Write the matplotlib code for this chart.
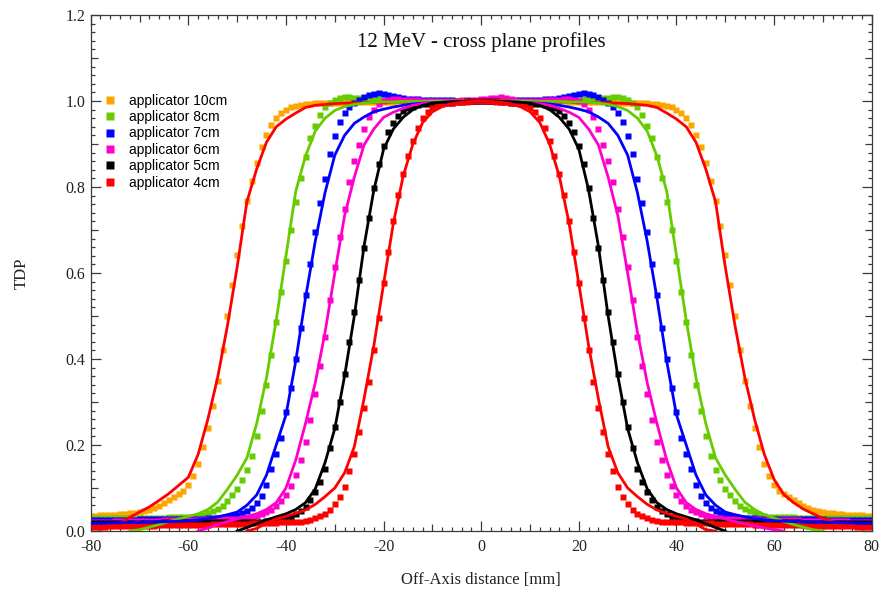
import numpy as np
import matplotlib
matplotlib.use('Agg')
import matplotlib.pyplot as plt
from matplotlib.ticker import MultipleLocator

plt.rcParams['axes.unicode_minus'] = False

nan = float('nan')

# measured points, 1 mm apart
x_meas = list(range(-80, 81))
# calculated curves, 2 mm apart
x_calc = list(range(-80, 81, 2))

labels = ['applicator 10cm', 'applicator 8cm', 'applicator 7cm',
          'applicator 6cm', 'applicator 5cm', 'applicator 4cm']
marker_colors = ['#FFA500', '#66CC00', '#0000FF', '#FF00CC', '#000000', '#FF0000']
line_colors = ['#FF0000', '#66CC00', '#0000FF', '#FF00CC', '#000000', '#FF0000']

m10 = [0.036, 0.036, 0.037, 0.037, 0.038, 0.038, 0.039, 0.040, 0.041, 0.042,
       0.044, 0.046, 0.048, 0.053, 0.058, 0.064, 0.071, 0.078, 0.086, 0.093,
       0.107, 0.128, 0.156, 0.195, 0.240, 0.290, 0.350, 0.420, 0.500, 0.573,
       0.643, 0.710, 0.768, 0.815, 0.856, 0.893, 0.920, 0.945, 0.961, 0.971,
       0.979, 0.985, 0.989, 0.991, 0.993, 0.994, 0.995, 0.995, 0.995, 0.996,
       0.996, 0.996, 0.996, 0.997, 0.997, 0.997, 0.997, 0.998, 0.998, 0.998,
       0.998, 0.998, 0.998, 0.999, 0.999, 0.999, 0.999, 0.999, 0.999, 0.999,
       0.999, 1.000, 1.000, 1.000, 1.000, 1.000, 1.000, 1.000, 1.000, 1.000,
       1.000,
       1.000, 1.000, 1.000, 1.000, 1.000, 1.000, 1.000, 1.000, 1.000, 0.999,
       0.999, 0.999, 0.999, 0.999, 0.999, 0.999, 0.999, 0.998, 0.998, 0.998,
       0.998, 0.998, 0.998, 0.997, 0.997, 0.997, 0.997, 0.996, 0.996, 0.996,
       0.996, 0.995, 0.995, 0.995, 0.994, 0.993, 0.991, 0.989, 0.985, 0.979,
       0.971, 0.961, 0.945, 0.920, 0.893, 0.856, 0.815, 0.768, 0.710, 0.643,
       0.573, 0.500, 0.420, 0.350, 0.290, 0.240, 0.195, 0.156, 0.128, 0.107,
       0.093, 0.086, 0.078, 0.071, 0.064, 0.058, 0.053, 0.048, 0.046, 0.044,
       0.042, 0.041, 0.040, 0.039, 0.038, 0.038, 0.037, 0.037, 0.036, 0.036]

m8 = [0.030, 0.030, 0.030, 0.030, 0.030, 0.030, 0.031, 0.031, 0.031, 0.031,
      0.031, 0.031, 0.031, 0.031, 0.031, 0.031, 0.032, 0.032, 0.032, 0.032,
      0.033, 0.033, 0.035, 0.038, 0.042, 0.046, 0.052, 0.059, 0.070, 0.083,
      0.097, 0.118, 0.143, 0.175, 0.222, 0.280, 0.340, 0.409, 0.487, 0.557,
      0.628, 0.701, 0.764, 0.822, 0.870, 0.913, 0.943, 0.968, 0.985, 0.995,
      1.003, 1.007, 1.009, 1.010, 1.008, 1.006, 1.005, 1.005, 1.004, 1.004,
      1.003, 1.003, 1.003, 1.002, 1.002, 1.002, 1.002, 1.002, 1.001, 1.001,
      1.001, 1.001, 1.001, 1.000, 1.000, 1.000, 1.000, 1.000, 1.000, 1.000,
      1.000,
      1.000, 1.000, 1.000, 1.000, 1.000, 1.000, 1.000, 1.001, 1.001, 1.001,
      1.001, 1.001, 1.002, 1.002, 1.002, 1.002, 1.002, 1.003, 1.003, 1.003,
      1.004, 1.004, 1.005, 1.005, 1.006, 1.008, 1.010, 1.009, 1.007, 1.003,
      0.995, 0.985, 0.968, 0.943, 0.913, 0.870, 0.822, 0.764, 0.701, 0.628,
      0.557, 0.487, 0.409, 0.340, 0.280, 0.222, 0.175, 0.143, 0.118, 0.097,
      0.083, 0.070, 0.059, 0.052, 0.046, 0.042, 0.038, 0.035, 0.033, 0.033,
      0.032, 0.032, 0.032, 0.032, 0.031, 0.031, 0.031, 0.031, 0.031, 0.031,
      0.031, 0.031, 0.031, 0.031, 0.030, 0.030, 0.030, 0.030, 0.030, 0.030]

m7 = [0.025, 0.025, 0.025, 0.025, 0.025, 0.026, 0.026, 0.026, 0.026, 0.026,
      0.027, 0.027, 0.027, 0.027, 0.027, 0.028, 0.028, 0.028, 0.028, 0.028,
      0.029, 0.029, 0.029, 0.029, 0.030, 0.030, 0.031, 0.031, 0.032, 0.035,
      0.038, 0.042, 0.046, 0.053, 0.064, 0.081, 0.106, 0.145, 0.178, 0.217,
      0.276, 0.332, 0.399, 0.472, 0.548, 0.622, 0.695, 0.763, 0.819, 0.876,
      0.919, 0.951, 0.971, 0.985, 0.995, 1.003, 1.009, 1.014, 1.017, 1.018,
      1.017, 1.015, 1.012, 1.009, 1.007, 1.005, 1.004, 1.004, 1.003, 1.003,
      1.003, 1.002, 1.002, 1.002, 1.002, 1.001, 1.001, 1.001, 1.000, 1.000,
      1.000,
      1.000, 1.000, 1.001, 1.001, 1.001, 1.002, 1.002, 1.002, 1.002, 1.003,
      1.003, 1.003, 1.004, 1.004, 1.005, 1.007, 1.009, 1.012, 1.015, 1.017,
      1.018, 1.017, 1.014, 1.009, 1.003, 0.995, 0.985, 0.971, 0.951, 0.919,
      0.876, 0.819, 0.763, 0.695, 0.622, 0.548, 0.472, 0.399, 0.332, 0.276,
      0.217, 0.178, 0.145, 0.106, 0.081, 0.064, 0.053, 0.046, 0.042, 0.038,
      0.035, 0.032, 0.031, 0.031, 0.030, 0.030, 0.029, 0.029, 0.029, 0.029,
      0.028, 0.028, 0.028, 0.028, 0.028, 0.027, 0.027, 0.027, 0.027, 0.027,
      0.026, 0.026, 0.026, 0.026, 0.026, 0.025, 0.025, 0.025, 0.025, 0.025]

m6 = [0.022, 0.022, 0.022, 0.022, 0.022, 0.023, 0.023, 0.023, 0.023, 0.023,
      0.024, 0.024, 0.024, 0.024, 0.024, 0.025, 0.025, 0.025, 0.025, 0.025,
      0.026, 0.026, 0.026, 0.026, 0.027, 0.027, 0.027, 0.028, 0.028, 0.028,
      0.029, 0.030, 0.031, 0.033, 0.035, 0.039, 0.044, 0.050, 0.058, 0.069,
      0.083, 0.105, 0.131, 0.165, 0.208, 0.259, 0.318, 0.384, 0.452, 0.537,
      0.615, 0.683, 0.749, 0.812, 0.860, 0.898, 0.935, 0.962, 0.980, 0.992,
      1.000, 1.003, 1.004, 1.004, 1.003, 1.003, 1.002, 1.002, 1.001, 1.001,
      1.000, 1.000, 1.000, 1.000, 1.001, 1.001, 1.002, 1.003, 1.003, 1.003,
      1.004,
      1.004, 1.006, 1.008, 1.009, 1.007, 1.004, 1.002, 1.000, 1.000, 1.000,
      1.001, 1.001, 1.002, 1.002, 1.003, 1.003, 1.004, 1.004, 1.003, 1.000,
      0.992, 0.980, 0.962, 0.935, 0.898, 0.860, 0.812, 0.749, 0.683, 0.615,
      0.537, 0.452, 0.384, 0.318, 0.259, 0.208, 0.165, 0.131, 0.105, 0.083,
      0.069, 0.058, 0.050, 0.044, 0.039, 0.035, 0.033, 0.031, 0.030, 0.029,
      0.028, 0.028, 0.028, 0.027, 0.027, 0.027, 0.026, 0.026, 0.026, 0.026,
      0.025, 0.025, 0.025, 0.025, 0.025, 0.024, 0.024, 0.024, 0.024, 0.024,
      0.023, 0.023, 0.023, 0.023, 0.023, 0.022, 0.022, 0.022, 0.022, 0.022]

m5 = [0.018, 0.018, 0.018, 0.018, 0.018, 0.018, 0.018, 0.019, 0.019, 0.019,
      0.019, 0.019, 0.019, 0.019, 0.019, 0.020, 0.020, 0.020, 0.020, 0.020,
      0.020, 0.020, 0.020, 0.020, 0.020, 0.021, 0.021, 0.021, 0.021, 0.021,
      0.021, 0.021, 0.022, 0.022, 0.022, 0.022, 0.023, 0.024, 0.025, 0.027,
      0.030, 0.032, 0.039, 0.047, 0.057, 0.071, 0.091, 0.113, 0.144, 0.192,
      0.242, 0.299, 0.366, 0.439, 0.509, 0.584, 0.658, 0.729, 0.797, 0.853,
      0.896, 0.927, 0.950, 0.966, 0.976, 0.983, 0.987, 0.990, 0.992, 0.993,
      0.994, 0.995, 0.995, 0.996, 0.996, 0.997, 0.998, 0.999, 0.999, 1.000,
      1.000,
      1.000, 0.999, 0.999, 0.998, 0.997, 0.996, 0.996, 0.995, 0.995, 0.994,
      0.993, 0.992, 0.990, 0.987, 0.983, 0.976, 0.966, 0.950, 0.927, 0.896,
      0.853, 0.797, 0.729, 0.658, 0.584, 0.509, 0.439, 0.366, 0.299, 0.242,
      0.192, 0.144, 0.113, 0.091, 0.071, 0.057, 0.047, 0.039, 0.032, 0.030,
      0.027, 0.025, 0.024, 0.023, 0.022, 0.022, 0.022, 0.022, 0.021, 0.021,
      0.021, 0.021, 0.021, 0.021, 0.021, 0.020, 0.020, 0.020, 0.020, 0.020,
      0.020, 0.020, 0.020, 0.020, 0.020, 0.019, 0.019, 0.019, 0.019, 0.019,
      0.019, 0.019, 0.019, 0.018, 0.018, 0.018, 0.018, 0.018, 0.018, 0.018]

m4 = [0.010, 0.010, 0.010, 0.010, 0.011, 0.011, 0.011, 0.011, 0.011, 0.012,
      0.012, 0.012, 0.012, 0.012, 0.013, 0.013, 0.013, 0.013, 0.014, 0.014,
      0.014, 0.014, 0.015, 0.015, 0.015, 0.016, 0.016, 0.016, 0.017, 0.017,
      0.017, 0.017, 0.017, 0.018, 0.018, 0.018, 0.019, 0.019, 0.019, 0.020,
      0.020, 0.020, 0.021, 0.022, 0.024, 0.026, 0.030, 0.034, 0.040, 0.050,
      0.062, 0.079, 0.103, 0.140, 0.179, 0.230, 0.287, 0.347, 0.420, 0.496,
      0.577, 0.650, 0.720, 0.781, 0.830, 0.872, 0.908, 0.938, 0.960, 0.975,
      0.984, 0.990, 0.993, 0.995, 0.996, 0.997, 0.998, 0.998, 0.999, 1.000,
      1.000,
      1.000, 0.999, 0.998, 0.998, 0.997, 0.996, 0.995, 0.993, 0.990, 0.984,
      0.975, 0.960, 0.938, 0.908, 0.872, 0.830, 0.781, 0.720, 0.650, 0.577,
      0.496, 0.420, 0.347, 0.287, 0.230, 0.179, 0.140, 0.103, 0.079, 0.062,
      0.050, 0.040, 0.034, 0.030, 0.026, 0.024, 0.022, 0.021, 0.020, 0.020,
      0.020, 0.019, 0.019, 0.019, 0.018, 0.018, 0.018, 0.017, 0.017, 0.017,
      0.017, 0.017, 0.016, 0.016, 0.016, 0.015, 0.015, 0.015, 0.014, 0.014,
      0.014, 0.014, 0.013, 0.013, 0.013, 0.013, 0.012, 0.012, 0.012, 0.012,
      0.012, 0.011, 0.011, 0.011, 0.011, 0.011, 0.010, 0.010, 0.010, 0.010]

c10 = [0.010, 0.011, 0.013, 0.018, 0.032, 0.044, 0.056, 0.071, 0.087, 0.106,
       0.125, 0.178, 0.260, 0.357, 0.477, 0.614, 0.766, 0.842, 0.904, 0.940,
       0.958, 0.972, 0.985, 0.990, 0.992, 0.994, 0.995, 0.996, 0.996, 0.997,
       0.997, 0.998, 0.998, 0.998, 0.999, 0.999, 0.999, 1.000, 1.000, 1.000,
       1.000,
       1.000, 1.000, 1.000, 0.999, 0.999, 0.999, 0.998, 0.998, 0.998, 0.997,
       0.997, 0.996, 0.996, 0.995, 0.994, 0.992, 0.990, 0.985, 0.972, 0.958,
       0.940, 0.904, 0.842, 0.766, 0.614, 0.477, 0.357, 0.260, 0.178, 0.120,
       0.085, 0.066, 0.051, 0.040, 0.030, 0.022, 0.016, 0.011, 0.009, 0.008]

c8 = [nan, nan, nan, nan, 0.000, 0.003, 0.009, 0.015, 0.022, 0.028,
      0.034, 0.040, 0.050, 0.067, 0.097, 0.130, 0.170, 0.250, 0.356, 0.490,
      0.640, 0.790, 0.872, 0.930, 0.960, 0.978, 0.987, 0.992, 0.995, 0.997,
      0.998, 0.998, 0.999, 0.999, 0.999, 1.000, 1.000, 1.000, 1.000, 1.000,
      1.000,
      1.000, 1.000, 1.000, 1.000, 1.000, 0.999, 0.999, 0.999, 0.998, 0.998,
      0.997, 0.995, 0.992, 0.987, 0.978, 0.960, 0.930, 0.872, 0.790, 0.640,
      0.490, 0.356, 0.250, 0.170, 0.130, 0.097, 0.067, 0.050, 0.038, 0.030,
      0.022, 0.015, 0.009, 0.003, 0.000, nan, nan, nan, nan, nan]

c7 = [0.018, 0.018, 0.019, 0.019, 0.020, 0.020, 0.021, 0.021, 0.022, 0.023,
      0.024, 0.026, 0.029, 0.033, 0.038, 0.044, 0.060, 0.084, 0.130, 0.200,
      0.270, 0.395, 0.542, 0.674, 0.787, 0.874, 0.920, 0.948, 0.963, 0.975,
      0.981, 0.986, 0.990, 0.993, 0.995, 0.996, 0.997, 0.998, 0.999, 1.000,
      1.000,
      1.000, 0.999, 0.998, 0.997, 0.996, 0.995, 0.993, 0.990, 0.986, 0.981,
      0.975, 0.963, 0.948, 0.920, 0.874, 0.787, 0.674, 0.542, 0.395, 0.270,
      0.200, 0.130, 0.084, 0.060, 0.044, 0.038, 0.033, 0.029, 0.026, 0.024,
      0.023, 0.022, 0.021, 0.021, 0.020, 0.020, 0.019, 0.019, 0.018, 0.018]

c6 = [nan, nan, nan, nan, nan, nan, nan, nan, nan, nan,
      nan, 0.000, 0.007, 0.015, 0.022, 0.028, 0.034, 0.040, 0.050, 0.066,
      0.100, 0.165, 0.250, 0.345, 0.462, 0.600, 0.733, 0.823, 0.898, 0.935,
      0.962, 0.974, 0.983, 0.990, 0.994, 0.996, 0.997, 0.998, 0.999, 1.000,
      1.000,
      1.000, 0.999, 0.998, 0.997, 0.996, 0.994, 0.990, 0.983, 0.974, 0.962,
      0.935, 0.898, 0.823, 0.733, 0.600, 0.462, 0.345, 0.250, 0.165, 0.100,
      0.066, 0.050, 0.040, 0.034, 0.028, 0.022, 0.017, 0.012, 0.007, 0.003,
      0.000, nan, nan, nan, nan, nan, nan, nan, nan, nan]

c5 = [nan, nan, nan, nan, nan, nan, nan, nan, nan, nan,
      nan, nan, nan, nan, nan, 0.000, 0.008, 0.017, 0.026, 0.033,
      0.040, 0.050, 0.066, 0.098, 0.159, 0.238, 0.360, 0.500, 0.663, 0.793,
      0.888, 0.935, 0.962, 0.980, 0.990, 0.995, 0.997, 0.998, 0.999, 1.000,
      1.000,
      1.000, 0.999, 0.998, 0.997, 0.995, 0.990, 0.980, 0.962, 0.935, 0.888,
      0.793, 0.663, 0.500, 0.360, 0.238, 0.159, 0.098, 0.066, 0.050, 0.040,
      0.033, 0.026, 0.017, 0.008, 0.000, nan, nan, nan, nan, nan,
      nan, nan, nan, nan, nan, nan, nan, nan, nan, nan]

c4 = [nan, nan, nan, nan, nan, nan, nan, nan, nan, nan,
      nan, nan, nan, nan, nan, nan, 0.000, 0.006, 0.018, 0.028,
      0.034, 0.041, 0.049, 0.062, 0.080, 0.100, 0.135, 0.196, 0.308, 0.431,
      0.575, 0.716, 0.825, 0.900, 0.950, 0.975, 0.987, 0.994, 0.997, 0.999,
      1.000,
      0.999, 0.997, 0.994, 0.987, 0.975, 0.950, 0.900, 0.825, 0.716, 0.575,
      0.431, 0.308, 0.196, 0.135, 0.100, 0.080, 0.062, 0.049, 0.041, 0.034,
      0.028, 0.016, 0.003, 0.000, nan, nan, nan, nan, nan, nan,
      nan, nan, nan, nan, nan, nan, nan, nan, nan, nan]

measured = [m10, m8, m7, m6, m5, m4]
calculated = [c10, c8, c7, c6, c5, c4]

serif = 'Liberation Serif'
sans = 'Liberation Sans'
axis_col = '#3a3a3a'

fig = plt.figure(figsize=(8.8, 5.91), dpi=100)
ax = fig.add_axes([0.1031, 0.1015, 0.8875, 0.8731])

for ys, col, lab in zip(measured, marker_colors, labels):
    ax.plot(x_meas, ys, linestyle='none', marker='s', ms=4.6,
            mfc=col, mec='none', label=lab, zorder=2)

for ys, col in zip(calculated, line_colors):
    ax.plot(x_calc, ys, color=col, lw=2.0, zorder=3)

ax.set_xlim(-80, 80)
ax.set_ylim(0, 1.2)

ax.xaxis.set_major_locator(MultipleLocator(20))
ax.xaxis.set_minor_locator(MultipleLocator(2))
ax.yaxis.set_major_locator(MultipleLocator(0.2))
ax.yaxis.set_minor_locator(MultipleLocator(0.02))
ax.yaxis.set_major_formatter(matplotlib.ticker.FormatStrFormatter('%.1f'))

ax.tick_params(which='both', direction='in', top=True, right=True,
               color=axis_col, width=0.9)
ax.tick_params(which='major', length=7.5)
ax.tick_params(which='minor', length=2.8)
ax.tick_params(axis='x', which='major', pad=6)
ax.tick_params(axis='y', which='major', pad=4)

for sp in ax.spines.values():
    sp.set_color(axis_col)
    sp.set_linewidth(0.9)

for lab in ax.get_xticklabels() + ax.get_yticklabels():
    lab.set_fontfamily(serif)
    lab.set_fontsize(11.5)
    lab.set_color('#222222')

# medium ticks at every 10 mm and every 0.1
fig.canvas.draw()
for t, v in zip(ax.xaxis.get_minor_ticks(), ax.xaxis.get_minorticklocs()):
    if abs(v / 10 - round(v / 10)) < 1e-6:
        t.tick1line.set_markersize(5)
        t.tick2line.set_markersize(5)
for t, v in zip(ax.yaxis.get_minor_ticks(), ax.yaxis.get_minorticklocs()):
    if abs(v / 0.1 - round(v / 0.1)) < 1e-6:
        t.tick1line.set_markersize(5)
        t.tick2line.set_markersize(5)

ax.text(0.5, 0.947, '12 MeV - cross plane profiles', transform=ax.transAxes,
        ha='center', va='center', fontfamily=serif, fontsize=15, color='#111111')

ax.set_xlabel('Off-Axis distance [mm]', fontfamily=serif, fontsize=12, color='#222222')
ax.xaxis.set_label_coords(0.5, -0.095)
ax.xaxis.label.set_va('center')
ax.set_ylabel('TDP', fontfamily=serif, fontsize=12, color='#222222')
ax.yaxis.set_label_coords(-0.088, 0.5)
ax.yaxis.label.set_va('center')

leg = ax.legend(loc='upper left', bbox_to_anchor=(0.0164, 0.8475), frameon=False,
                borderaxespad=0, borderpad=0, handlelength=1.0, handletextpad=0.85,
                labelspacing=0.17, prop={'family': sans, 'size': 10})
for h in leg.legend_handles:
    h.set_markersize(6)

fig.savefig('out.png', dpi=100)
